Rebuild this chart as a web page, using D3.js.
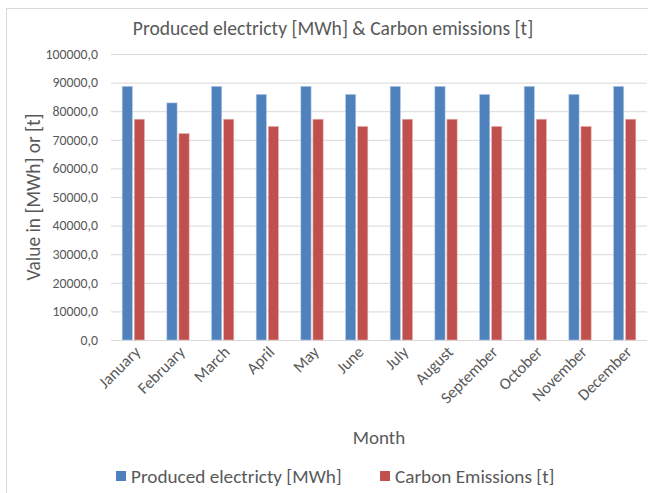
<!DOCTYPE html>
<html><head><meta charset="utf-8">
<script src="https://cdn.jsdelivr.net/npm/d3@7"></script>
<style>body{margin:0;background:#fff}svg{display:block}text{font-family:Carlito,"Open Sans","Liberation Sans",sans-serif}</style>
</head><body><svg id="c" width="648" height="493"></svg>
<script>
const months = ["January","February","March","April","May","June","July","August","September","October","November","December"];
const electricity = [88700,82900,88700,85900,88700,85900,88700,88700,85900,88700,85900,88700];
const emissions = [77200,72200,77200,74700,77200,74700,77200,77200,74700,77200,74700,77200];
const seriesNames = ["Produced electricty [MWh]","Carbon Emissions [t]"];
const yTicks = [0,10000,20000,30000,40000,50000,60000,70000,80000,90000,100000];

const svg = d3.select("#c");
const txt = "#595959";
svg.append("rect").attr("x",6.5).attr("y",8.5).attr("width",660).attr("height",500)
  .attr("fill","#fff").attr("stroke","#d9d9d9");

const L=111,R=647,T=54,B=340;
const x = d3.scaleBand().domain(months).range([L,R]).paddingInner(0.5).paddingOuter(0.25);
const y = d3.scaleLinear().domain([0,100000]).range([B,T]);
const xs = d3.scaleBand().domain([0,1]).range([0,x.bandwidth()]).paddingInner(0.15);

svg.append("g").selectAll("line").data(yTicks).join("line")
  .attr("x1",L).attr("x2",R).attr("y1",d=>y(d)+0.5).attr("y2",d=>y(d)+0.5)
  .attr("stroke","#d9d9d9").attr("stroke-width",1);

const fmt = d => d.toFixed(1).replace(".",",");
svg.append("g").selectAll("text").data(yTicks).join("text")
  .attr("x",98).attr("y",d=>y(d)).attr("dy","0.35em").attr("text-anchor","end")
  .attr("font-size",13.8).attr("fill",txt).text(fmt);

const colors=["#4F81BD","#C0504D"];
const strokes=["#b9cde5","#e6b9b8"];
[electricity,emissions].forEach((arr,si)=>{
  svg.append("g").selectAll("rect").data(arr).join("rect")
    .attr("x",(d,i)=>x(months[i])+xs(si)).attr("width",xs.bandwidth())
    .attr("y",d=>y(d)).attr("height",d=>B-y(d))
    .attr("fill",colors[si]).attr("stroke",strokes[si]).attr("stroke-width",0.6);
});

svg.append("g").selectAll("text").data(months).join("text")
  .attr("transform",d=>`translate(${x(d)+x.bandwidth()/2+4},${B+9}) rotate(-45)`)
  .attr("text-anchor","end").attr("dy","0.35em")
  .attr("font-size",16.3).attr("fill",txt).text(d=>d);

svg.append("text").attr("x",333).attr("y",35).attr("text-anchor","middle")
  .attr("font-size",19.6).attr("fill",txt).text("Produced electricty [MWh] & Carbon emissions [t]");
svg.append("text").attr("transform","translate(40,197) rotate(-90)").attr("text-anchor","middle")
  .attr("font-size",19.4).attr("fill",txt).text("Value in [MWh] or [t]");
svg.append("text").attr("x",379).attr("y",444).attr("text-anchor","middle")
  .attr("font-size",19).attr("fill",txt).text("Month");

const lg = svg.append("g");
const lx=[116,380];
seriesNames.forEach((n,i)=>{
  lg.append("rect").attr("x",lx[i]).attr("y",471).attr("width",10).attr("height",10).attr("fill",colors[i]);
  lg.append("text").attr("x",lx[i]+15).attr("y",476).attr("dy","0.35em")
    .attr("font-size",19.2).attr("fill",txt).text(n);
});
</script></body></html>
